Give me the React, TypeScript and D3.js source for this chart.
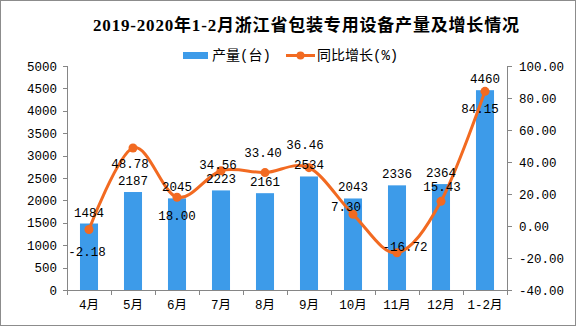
import React from "react";
import * as d3 from "d3";

const categories = ["4月", "5月", "6月", "7月", "8月", "9月", "10月", "11月", "12月", "1-2月"];
const output = [1484, 2187, 2045, 2223, 2161, 2534, 2043, 2336, 2364, 4460];
const growth = [-2.18, 48.78, 18.0, 34.56, 33.4, 36.46, 7.3, -16.72, 15.43, 84.15];
const leftTicks = [0, 500, 1000, 1500, 2000, 2500, 3000, 3500, 4000, 4500, 5000];
const rightTicks = [-40, -20, 0, 20, 40, 60, 80, 100];
const title = "2019-2020年1-2月浙江省包装专用设备产量及增长情况";
const legendBar = "产量(台)";
const legendLine = "同比增长(%)";

// label placement tweaks (style, not data)
const growthLabelDy = [22, 16, 18, -6, -20, -23, -8, -6, -15, 17];
const growthLabelDx = [-2, -3, 0, -3, -2, -4, -7, 8, 1, -5];

const W = 576;
const H = 327;
const M = { left: 67, right: 507, top: 66, bottom: 290 };
const BAR = "#3d9be9";
const LINE = "#f26a21";
const AXIS = "#868686";
const NUM_FONT = "'Liberation Mono', 'Noto Sans CJK SC', monospace";

export default function App() {
  const x = d3.scaleBand<string>().domain(categories).range([M.left, M.right]).padding(0);
  const yL = d3.scaleLinear().domain([0, 5000]).range([M.bottom, M.top]);
  const yR = d3.scaleLinear().domain([-40, 100]).range([M.bottom, M.top]);
  const bw = x.bandwidth() * 0.41;
  const cx = (c: string) => (x(c) as number) + x.bandwidth() / 2;

  const line = d3
    .line<number>()
    .x((_, i) => cx(categories[i]))
    .y((d) => yR(d))
    .curve(d3.curveCardinal.tension(0));

  return (
    <svg width={W} height={H} style={{ position: "absolute", left: 0, top: 0 }}>
      <rect x={0} y={0} width={W} height={H} fill="#fff" />
      <rect x={0.5} y={0.5} width={575} height={325} fill="none" stroke="#8c8c8c" strokeWidth={1} />

      <text
        x={93}
        y={31}
        fontFamily="'Liberation Serif', 'Noto Sans CJK SC', serif"
        fontWeight="bold"
        fontSize={17}
        textLength={426}
        fill="#000"
      >
        {title}
      </text>

      {/* legend */}
      <rect x={183} y={52} width={25} height={7} fill={BAR} />
      <text x={212} y={60} fontFamily={NUM_FONT} fontSize={14} fill="#000">
        {legendBar}
      </text>
      <line x1={286} x2={315} y1={55.5} y2={55.5} stroke={LINE} strokeWidth={3} />
      <circle cx={300.5} cy={55.5} r={4} fill={LINE} />
      <text x={317} y={60} fontFamily={NUM_FONT} fontSize={14} fill="#000">
        {legendLine}
      </text>

      {/* bars */}
      {categories.map((c, i) => (
        <rect
          key={c}
          x={cx(c) - bw / 2}
          y={yL(output[i])}
          width={bw}
          height={yL(0) - yL(output[i])}
          fill={BAR}
        />
      ))}

      {/* axes */}
      <g stroke={AXIS} strokeWidth={1} fill="none">
        <line x1={M.left + 0.5} x2={M.left + 0.5} y1={M.top} y2={M.bottom} />
        <line x1={M.right + 0.5} x2={M.right + 0.5} y1={M.top} y2={M.bottom} />
        <line x1={M.left} x2={M.right + 1} y1={M.bottom + 0.5} y2={M.bottom + 0.5} />
        {leftTicks.map((t) => (
          <line key={"lt" + t} x1={M.left - 4} x2={M.left} y1={Math.round(yL(t)) + 0.5} y2={Math.round(yL(t)) + 0.5} />
        ))}
        {rightTicks.map((t) => (
          <line key={"rt" + t} x1={M.right} x2={M.right + 5} y1={Math.round(yR(t)) + 0.5} y2={Math.round(yR(t)) + 0.5} />
        ))}
        {[...categories.map((c) => x(c) as number), M.right].map((v, i) => (
          <line key={"xt" + i} x1={Math.round(v) + 0.5} x2={Math.round(v) + 0.5} y1={M.bottom} y2={M.bottom + 5} />
        ))}
      </g>

      <g fontFamily={NUM_FONT} fontSize={12.5} fill="#000">
        {leftTicks.map((t) => (
          <text key={"ll" + t} x={57} y={yL(t) + 4.5} textAnchor="end">
            {t}
          </text>
        ))}
        {rightTicks.map((t) => (
          <text key={"rl" + t} x={519} y={yR(t) + 4.5}>
            {t.toFixed(2)}
          </text>
        ))}
        {categories.map((c) => (
          <text key={"cl" + c} x={cx(c)} y={309} textAnchor="middle">
            {c}
          </text>
        ))}
      </g>

      {/* line */}
      <path d={line(growth) || ""} fill="none" stroke={LINE} strokeWidth={3} />
      {growth.map((g, i) => (
        <circle key={"p" + i} cx={cx(categories[i])} cy={yR(g)} r={4.5} fill={LINE} />
      ))}

      {/* value labels */}
      <g fontFamily={NUM_FONT} fontSize={12.5} fill="#000" textAnchor="middle">
        {output.map((v, i) => (
          <text key={"bv" + i} x={cx(categories[i])} y={yL(v) - 7}>
            {v}
          </text>
        ))}
        {growth.map((g, i) => (
          <text
            key={"gv" + i}
            x={cx(categories[i]) + growthLabelDx[i]}
            y={yR(g) + growthLabelDy[i] + 4.5}
          >
            {g.toFixed(2)}
          </text>
        ))}
      </g>
    </svg>
  );
}
